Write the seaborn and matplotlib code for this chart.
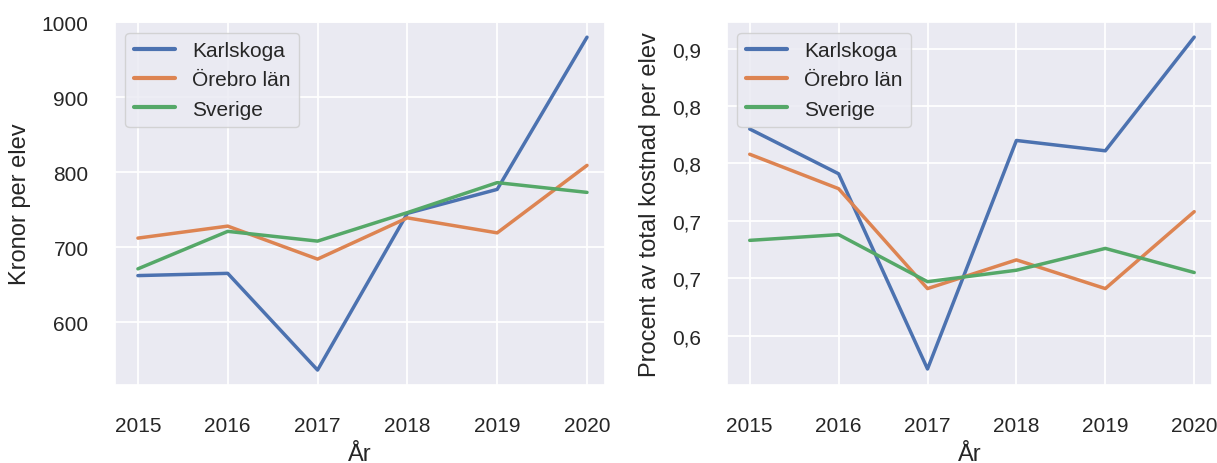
import numpy as np
import pandas as pd
import matplotlib
matplotlib.use("Agg")
import matplotlib.pyplot as plt
import seaborn as sns

# values
years = [2015, 2016, 2017, 2018, 2019, 2020]
regions = ["Karlskoga", "Örebro län", "Sverige"]

kr_karlskoga = [662, 665, 536, 745, 777, 980]
kr_orebro = [712, 728, 684, 739, 719, 809]
kr_sverige = [671, 721, 708, 746, 786, 773]

pct_karlskoga = [0.780, 0.741, 0.571, 0.770, 0.761, 0.860]
pct_orebro = [0.758, 0.728, 0.641, 0.666, 0.641, 0.708]
pct_sverige = [0.683, 0.688, 0.647, 0.657, 0.676, 0.655]

y2_ticks = [0.60, 0.65, 0.70, 0.75, 0.80, 0.85]
y2_labels = ["0,6", "0,7", "0,7", "0,8", "0,8", "0,9"]
y1_ticks = [600, 700, 800, 900, 1000]

sns.set_theme(style="darkgrid")
plt.rcParams['font.family'] = ['Liberation Sans', 'DejaVu Sans']

kr = pd.DataFrame({
    "År": years * 3,
    "Region": [r for r in regions for _ in years],
    "Kronor": kr_karlskoga + kr_orebro + kr_sverige,
})
pct = pd.DataFrame({
    "År": years * 3,
    "Region": [r for r in regions for _ in years],
    "Procent": pct_karlskoga + pct_orebro + pct_sverige,
})

fig = plt.figure(figsize=(12.17, 4.64), dpi=100)
ax1 = fig.add_axes([0.0945, 0.168, 0.4026, 0.782])
ax2 = fig.add_axes([0.5974, 0.168, 0.3985, 0.782])

fs = 15
lfs = 17
sns.lineplot(data=kr, x="År", y="Kronor", hue="Region", linewidth=2.5, ax=ax1)
sns.lineplot(data=pct, x="År", y="Procent", hue="Region", linewidth=2.5, ax=ax2)

ax1.set_ylim(516, 1000)
ax1.set_yticks(y1_ticks)
ax1.set_ylabel("Kronor per elev", fontsize=lfs, labelpad=8)

ax2.set_ylim(0.557, 0.873)
ax2.set_yticks(y2_ticks)
ax2.set_yticklabels(y2_labels)
ax2.set_ylabel("Procent av total kostnad per elev", fontsize=lfs, labelpad=8)

for ax in (ax1, ax2):
    ax.set_xlim(2014.745, 2020.2)
    ax.set_xticks(years)
    ax.set_xlabel("År", fontsize=lfs, labelpad=6)
    ax.tick_params(axis="x", labelsize=fs, pad=16)
    ax.tick_params(axis="y", labelsize=fs, pad=13)
    ax.grid(linewidth=1.3)
    leg = ax.legend(loc="upper left", fontsize=fs, title=None)
    for line in leg.get_lines():
        line.set_linewidth(3)

fig.savefig("out.png", dpi=100)
